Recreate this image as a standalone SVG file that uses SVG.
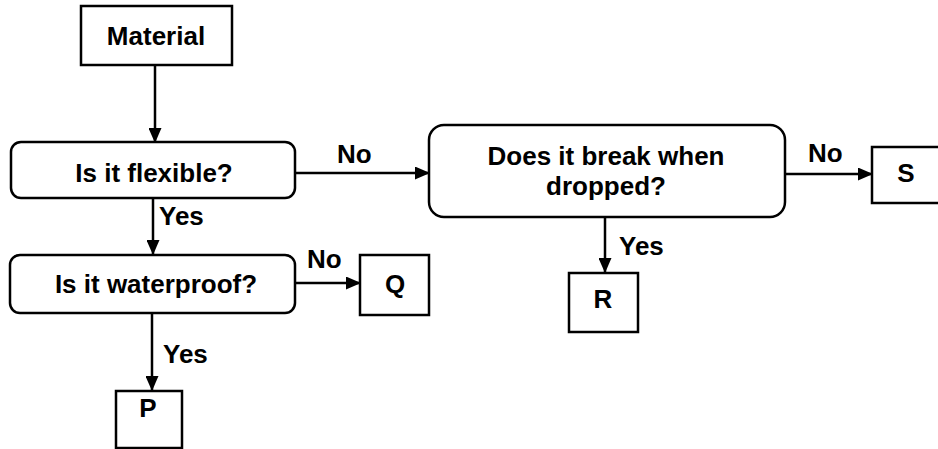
<svg xmlns="http://www.w3.org/2000/svg" width="938" height="449" viewBox="0 0 938 449">
<style>
.box{fill:#fff;stroke:#000;stroke-width:2.5}
.t{font-family:"Liberation Sans",Arial,sans-serif;font-weight:bold;font-size:26px;fill:#000}
.c{text-anchor:middle}
.ln{stroke:#000;stroke-width:2.5;fill:none;marker-end:url(#ah)}
</style>
<defs>
<marker id="ah" markerUnits="userSpaceOnUse" markerWidth="15" markerHeight="13" refX="14" refY="6.5" orient="auto">
<path d="M0,0 L15,6.5 L0,13 z" fill="#000"/>
</marker>
</defs>
<rect width="938" height="449" fill="#fff"/>
<g id="connectors">
<line class="ln" x1="155" y1="65" x2="155" y2="142"/>
<line class="ln" x1="295" y1="173" x2="429" y2="173"/>
<line class="ln" x1="153" y1="198" x2="153" y2="254"/>
<line class="ln" x1="295" y1="283" x2="360" y2="283"/>
<line class="ln" x1="152" y1="313" x2="152" y2="390"/>
<line class="ln" x1="785" y1="174" x2="872" y2="174"/>
<line class="ln" x1="605" y1="217" x2="605" y2="272"/>
<text class="t" x="337" y="163">No</text>
<text class="t" x="159" y="225">Yes</text>
<text class="t" x="307" y="268">No</text>
<text class="t" x="163" y="363">Yes</text>
<text class="t" x="808" y="162">No</text>
<text class="t" x="619" y="255">Yes</text>
</g>
<g id="material">
<rect class="box" x="81" y="6" width="151" height="59"/>
<text class="t c" x="156" y="45">Material</text>
</g>
<g id="flexible">
<rect class="box" x="11" y="142" width="284" height="56" rx="10"/>
<text class="t c" x="154" y="182">Is it flexible?</text>
</g>
<g id="waterproof">
<rect class="box" x="10" y="255" width="285" height="58" rx="10"/>
<text class="t c" x="156" y="293">Is it waterproof?</text>
</g>
<g id="break">
<rect class="box" x="429" y="125" width="356" height="92" rx="15"/>
<text class="t c" x="606" y="165">Does it break when</text>
<text class="t c" x="606" y="195">dropped?</text>
</g>
<g id="Q">
<rect class="box" x="360" y="255" width="69" height="60"/>
<text class="t c" x="395" y="293">Q</text>
</g>
<g id="R">
<rect class="box" x="569" y="273" width="69" height="59"/>
<text class="t c" x="603" y="308">R</text>
</g>
<g id="P">
<rect class="box" x="116" y="391" width="66" height="57"/>
<text class="t c" x="148" y="417">P</text>
</g>
<g id="S">
<rect class="box" x="872" y="147" width="70" height="56"/>
<text class="t c" x="906" y="182">S</text>
</g>
</svg>
